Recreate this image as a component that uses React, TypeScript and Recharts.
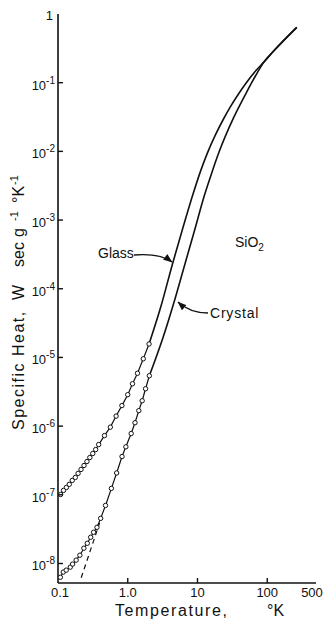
import React from "react";
import { LineChart, Line, XAxis, YAxis } from "recharts";

// specific heat of SiO2 (T in K, C in W sec g^-1 K^-1)
const glassMeasuredT = [0.109, 0.12, 0.132, 0.145, 0.16, 0.177, 0.194, 0.214, 0.236, 0.26, 0.286, 0.315, 0.347, 0.383, 0.464, 0.563, 0.681, 0.824, 1.0, 1.17, 1.38, 1.67, 2.02];
const glassMeasuredC = [1.01e-7, 1.16e-7, 1.28e-7, 1.42e-7, 1.62e-7, 1.79e-7, 2.05e-7, 2.34e-7, 2.67e-7, 3.05e-7, 3.49e-7, 3.99e-7, 4.56e-7, 5.39e-7, 7.28e-7, 9.66e-7, 1.4e-6, 1.99e-6, 2.87e-6, 4.14e-6, 5.88e-6, 9.55e-6, 1.57e-5];
const glassCurveT = [2.02, 3.0, 4.37, 5.98, 8.61, 11, 13.8, 18, 23.6, 30, 40.2, 52, 68.9, 90, 118, 265];
const glassCurveC = [1.57e-5, 5.6e-5, 2.28e-4, 6.88e-4, 2.37e-3, 5.07e-3, 9.35e-3, 1.72e-2, 2.96e-2, 4.55e-2, 7.26e-2, 0.105, 0.15, 0.201, 0.275, 0.64];

const crystalMeasuredT = [0.108, 0.119, 0.131, 0.15, 0.162, 0.182, 0.206, 0.235, 0.263, 0.294, 0.324, 0.362, 0.409, 0.48, 0.583, 0.693, 0.828, 0.94, 1.12, 1.27, 1.44, 1.61, 1.8, 2.04];
const crystalMeasuredC = [6.3e-9, 7.5e-9, 8.0e-9, 8.85e-9, 9.8e-9, 1.12e-8, 1.32e-8, 1.67e-8, 1.97e-8, 2.41e-8, 2.85e-8, 3.36e-8, 4.54e-8, 7.0e-8, 1.24e-7, 2.08e-7, 3.61e-7, 5.0e-7, 7.8e-7, 1.12e-6, 1.68e-6, 2.34e-6, 3.5e-6, 5.41e-6];
const crystalCurveT = [2.04, 3.18, 4.57, 6.47, 9.0, 12.7, 16, 20.3, 32.7, 50.1, 72.6, 90, 118, 265];
const crystalCurveC = [5.41e-6, 1.9e-5, 6.2e-5, 2.13e-4, 6.88e-4, 2.37e-3, 4.85e-3, 9.68e-3, 3.04e-2, 7.13e-2, 0.1416, 0.201, 0.275, 0.64];

// dashed low temperature extrapolation of the crystal
const debyeT = [0.215, 0.395];
const debyeC = [6.2e-9, 3.9e-8];

const xTicks = [0.1, 1, 10, 100, 500];
const xTickLabels = ["0.1", "1.0", "10", "100", "500"];
const yTicks = [1e-8, 1e-7, 1e-6, 1e-5, 1e-4, 1e-3, 1e-2, 1e-1, 1];

const toRows = (t: number[], c: number[]) => t.map((T, i) => ({ T, C: c[i] }));

const glassMeasured = toRows(glassMeasuredT, glassMeasuredC);
const glassCurve = toRows(glassCurveT, glassCurveC);
const crystalMeasured = toRows(crystalMeasuredT, crystalMeasuredC);
const crystalCurve = toRows(crystalCurveT, crystalCurveC);
const debye = toRows(debyeT, debyeC);

const INK = "#111";
const FONT = "'Liberation Sans', Arial, sans-serif";

const XTick = (props: any) => {
	const { x, y, payload, index } = props;
	const v = payload.value;
	const inner = v > 0.1 && v < 500;
	return (
		<g>
			{inner && <line x1={x} x2={x} y1={y} y2={y - 5} stroke={INK} strokeWidth={1.4} />}
			<text x={x + (v === 500 ? -4 : v === 0.1 ? 2 : 0)} y={y + 14} textAnchor="middle" fontSize={13} fill={INK}>
				{xTickLabels[index] ?? String(v)}
			</text>
		</g>
	);
};

const YTick = (props: any) => {
	const { x, y, payload } = props;
	const exp = Math.round(Math.log10(payload.value));
	return (
		<g>
			{exp !== 0 && <line x1={x} x2={x + 5} y1={y} y2={y} stroke={INK} strokeWidth={1.4} />}
			{exp === 0 ? (
				<text x={x - 5} y={y + 6} textAnchor="end" fontSize={13} fill={INK}>1</text>
			) : (
				<text x={x - 3} y={y + 7} textAnchor="end" fontSize={13} fill={INK}>
					10<tspan dy={-6} fontSize={10}>{exp}</tspan>
				</text>
			)}
		</g>
	);
};

const TopTick = (props: any) => {
	const { x, y, payload } = props;
	if (payload.value <= 0.1 || payload.value >= 500) return <g />;
	return <line x1={x} x2={x} y1={y} y2={y + 5} stroke={INK} strokeWidth={1.4} />;
};

const RightTick = (props: any) => {
	const { x, y, payload } = props;
	if (payload.value >= 1) return <g />;
	return <line x1={x} x2={x - 5} y1={y} y2={y} stroke={INK} strokeWidth={1.4} />;
};

const dotStyle = { r: 2.2, fill: "#fff", stroke: INK, strokeWidth: 1 };

export default function App() {
	return (
		<div style={{ position: "absolute", left: 0, top: 0, width: 329, height: 622, background: "#fff", fontFamily: FONT }}>
			<LineChart width={329} height={622} margin={{ top: 14, right: 13, bottom: 0, left: 0 }}>
				<XAxis
					type="number"
					dataKey="T"
					scale="log"
					domain={[0.1, 500]}
					allowDataOverflow
					ticks={xTicks}
					interval={0}
					height={39}
					tickSize={0}
					tickMargin={0}
					tick={XTick}
					axisLine={{ stroke: INK, strokeWidth: 1.6 }}
				/>
				<XAxis
					xAxisId="top"
					orientation="top"
					type="number"
					dataKey="T"
					scale="log"
					domain={[0.1, 500]}
					allowDataOverflow
					ticks={xTicks}
					interval={0}
					height={0}
					tickSize={0}
					tickMargin={0}
					tick={TopTick}
					axisLine={{ stroke: INK, strokeWidth: 1.6 }}
				/>
				<YAxis
					type="number"
					dataKey="C"
					scale="log"
					domain={[5.2e-9, 1]}
					allowDataOverflow
					ticks={yTicks}
					interval={0}
					width={58}
					tickSize={0}
					tickMargin={0}
					tick={YTick}
					axisLine={{ stroke: INK, strokeWidth: 1.6 }}
				/>
				<YAxis
					yAxisId="right"
					orientation="right"
					type="number"
					dataKey="C"
					scale="log"
					domain={[5.2e-9, 1]}
					allowDataOverflow
					ticks={yTicks}
					interval={0}
					width={0}
					tickSize={0}
					tickMargin={0}
					tick={RightTick}
					axisLine={{ stroke: INK, strokeWidth: 1.6 }}
				/>
				<Line data={debye} dataKey="C" type="linear" stroke={INK} strokeWidth={1.2} strokeDasharray="5 4" dot={false} isAnimationActive={false} />
				<Line data={glassCurve} dataKey="C" type="monotone" stroke={INK} strokeWidth={1.6} dot={false} isAnimationActive={false} />
				<Line data={crystalCurve} dataKey="C" type="monotone" stroke={INK} strokeWidth={1.6} dot={false} isAnimationActive={false} />
				<Line data={glassMeasured} dataKey="C" type="linear" stroke={INK} strokeWidth={1.2} dot={dotStyle} isAnimationActive={false} />
				<Line data={crystalMeasured} dataKey="C" type="linear" stroke={INK} strokeWidth={1.2} dot={dotStyle} isAnimationActive={false} />
			</LineChart>
			<svg width={329} height={622} style={{ position: "absolute", left: 0, top: 0, pointerEvents: "none" }}>
				<defs>
					<marker id="tip" markerUnits="userSpaceOnUse" markerWidth={9} markerHeight={7} refX={8.5} refY={3.5} orient="auto">
						<path d="M0,0 L9,3.5 L0,7 z" fill={INK} />
					</marker>
				</defs>
				<g fill={INK} fontSize={14}>
					<text x={98} y={258}>Glass</text>
					<text x={210} y={318} letterSpacing={0.8}>Crystal</text>
					<text x={235} y={247}>SiO<tspan dy={4} fontSize={10}>2</tspan></text>
				</g>
				<path d="M134,255 Q160,253 172,262" fill="none" stroke={INK} strokeWidth={1.3} markerEnd="url(#tip)" />
				<path d="M208,313 Q190,313 178,302" fill="none" stroke={INK} strokeWidth={1.3} markerEnd="url(#tip)" />
				<g fill={INK}>
					<text x={115} y={616} fontSize={16} letterSpacing={1.6}>Temperature,</text>
					<text x={267} y={616} fontSize={16}>°K</text>
				</g>
				<g fill={INK} fontSize={16}>
					<text transform="translate(24,430) rotate(-90)" letterSpacing={1.5}>Specific Heat,</text>
					<text transform="translate(24,300) rotate(-90)">W</text>
					<text transform="translate(24,267) rotate(-90)">sec</text>
					<text transform="translate(24,237) rotate(-90)">g</text>
					<text transform="translate(18,221) rotate(-90)" fontSize={11}>-1</text>
					<text transform="translate(24,203) rotate(-90)">°K</text>
					<text transform="translate(18,185) rotate(-90)" fontSize={11}>-1</text>
				</g>
			</svg>
		</div>
	);
}
